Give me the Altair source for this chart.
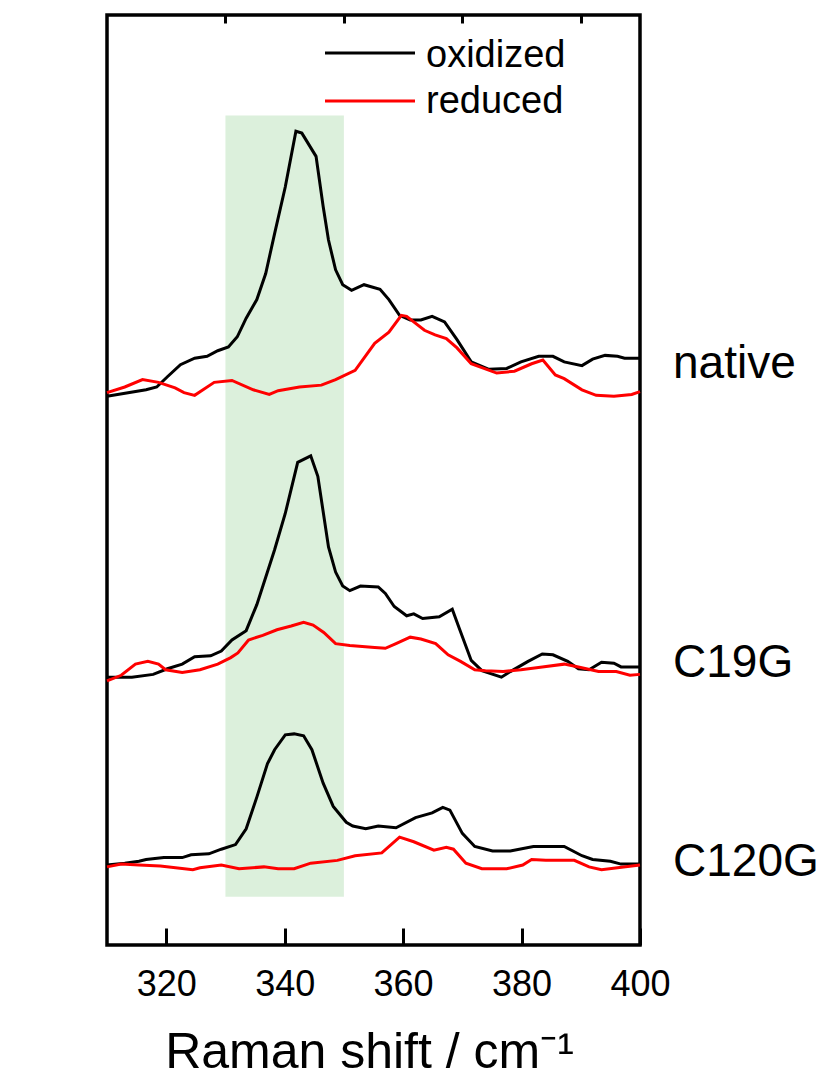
import altair as alt
import pandas as pd

# Raman spectra (shift in cm-1, intensity in arbitrary offset units)
native_ox_x = [310.0, 316.6, 318.4, 320.2, 322.4, 324.8, 326.9, 328.7, 330.5, 332.0, 333.5, 335.3,
               336.8, 338.3, 340.1, 341.9, 342.9, 345.3, 346.5, 347.4, 348.6, 349.8, 351.3, 353.4,
               356.1, 357.6, 359.4, 361.2, 363.0, 364.9, 367.0, 369.1, 371.5, 374.5, 377.5, 379.9,
               382.9, 385.3, 387.2, 390.2, 392.0, 394.1, 396.2, 397.4, 400.0]
native_ox_y = [59.0, 59.7, 60.0, 61.1, 62.4, 63.1, 63.3, 63.9, 64.3, 65.4, 67.4, 69.4,
               72.2, 76.5, 81.5, 87.5, 87.3, 84.8, 79.4, 75.8, 72.6, 71.0, 70.4, 71.0,
               70.5, 69.4, 67.7, 67.2, 67.2, 67.6, 67.0, 65.1, 62.7, 61.9, 62.0, 62.7,
               63.3, 63.3, 62.7, 62.3, 63.0, 63.4, 63.3, 63.1, 63.1]

native_red_x = [310.0, 313.0, 316.0, 318.7, 321.5, 323.0, 324.8, 328.1, 331.1, 334.7, 337.4, 338.9,
                342.5, 346.2, 348.6, 351.9, 355.2, 357.6, 359.7, 360.6, 363.6, 365.4, 367.3, 369.1,
                371.5, 375.8, 378.8, 381.7, 383.6, 385.7, 387.2, 390.2, 392.6, 395.6, 398.6, 400.0]
native_red_y = [59.4, 60.0, 60.8, 60.5, 59.9, 59.4, 59.1, 60.5, 60.7, 59.7, 59.2, 59.6,
                60.0, 60.2, 60.8, 61.8, 64.7, 65.9, 67.7, 67.6, 66.1, 65.6, 65.2, 64.2,
                62.5, 61.5, 61.7, 62.5, 62.9, 61.3, 60.9, 59.7, 59.1, 59.0, 59.2, 59.5]

c19g_ox_x = [310.0, 314.2, 317.8, 320.2, 322.7, 324.8, 327.5, 329.3, 331.1, 333.5, 335.3, 338.3,
             340.1, 342.2, 344.4, 345.6, 347.4, 348.6, 349.8, 351.0, 352.8, 355.8, 357.0, 358.5,
             360.6, 361.8, 363.3, 366.1, 368.3, 369.4, 371.5, 373.3, 376.6, 378.1, 381.1, 383.5,
             385.3, 387.8, 389.6, 391.4, 393.5, 395.6, 396.8, 400.0]
c19g_ox_y = [28.8, 28.8, 29.1, 29.7, 30.2, 31.0, 31.1, 31.6, 32.8, 33.8, 36.6, 42.5,
             46.4, 51.9, 52.6, 50.4, 42.8, 40.1, 38.6, 38.1, 38.6, 38.5, 37.8, 36.4,
             35.4, 35.6, 35.1, 35.3, 36.1, 34.2, 30.6, 29.5, 28.8, 29.4, 30.5, 31.3,
             31.2, 30.5, 29.7, 29.6, 30.4, 30.3, 29.9, 29.9]

c19g_red_x = [310.0, 312.4, 314.8, 316.9, 318.7, 319.9, 322.7, 325.7, 328.7, 330.9, 332.1, 333.9,
              336.3, 338.7, 341.1, 343.2, 344.8, 346.6, 348.6, 351.0, 355.2, 357.0, 358.8, 361.2,
              363.0, 365.5, 367.6, 369.7, 372.1, 373.9, 376.9, 379.9, 383.5, 387.2, 389.6, 393.0,
              396.0, 398.3, 400.0]
c19g_red_y = [28.4, 29.0, 30.2, 30.5, 30.2, 29.6, 29.3, 29.6, 30.2, 30.9, 31.4, 32.8,
              33.3, 33.9, 34.3, 34.7, 34.4, 33.6, 32.4, 32.2, 32.0, 31.9, 32.4, 33.1,
              32.9, 32.4, 31.2, 30.5, 29.6, 29.5, 29.4, 29.6, 29.9, 30.2, 29.9, 29.4,
              29.4, 29.0, 29.1]

c120g_ox_x = [310.0, 313.0, 315.4, 316.6, 319.6, 322.7, 324.2, 327.2, 329.3, 331.7, 333.5, 335.3,
              337.1, 338.3, 340.1, 341.6, 343.2, 344.6, 346.5, 348.2, 350.4, 351.5, 353.7, 355.8,
              358.8, 362.1, 364.9, 366.7, 367.9, 370.0, 372.1, 375.1, 378.1, 382.0, 387.2, 390.2,
              392.0, 395.0, 396.8, 400.0]
c120g_ox_y = [8.6, 8.8, 9.0, 9.2, 9.4, 9.4, 9.7, 9.8, 10.3, 10.8, 12.5, 15.9,
              19.5, 21.0, 22.6, 22.7, 22.5, 21.0, 17.4, 14.9, 13.2, 12.8, 12.5, 12.8,
              12.6, 13.7, 14.2, 14.8, 14.5, 12.0, 10.6, 10.1, 10.1, 10.6, 10.6, 9.6,
              9.2, 9.0, 8.7, 8.7]

c120g_red_x = [310.0, 312.4, 315.4, 319.0, 324.5, 325.7, 329.3, 332.3, 336.5, 338.9, 341.6, 344.4,
               348.9, 351.9, 356.4, 359.4, 361.8, 365.2, 367.3, 368.5, 370.6, 373.3, 377.5, 380.2,
               381.7, 384.1, 388.9, 391.4, 393.5, 396.2, 400.0]
c120g_red_y = [8.4, 8.7, 8.6, 8.5, 8.1, 8.3, 8.6, 8.2, 8.4, 8.2, 8.2, 8.8,
               9.1, 9.6, 9.9, 11.6, 11.1, 10.2, 10.5, 10.3, 8.8, 8.2, 8.2, 8.6,
               9.2, 9.1, 9.1, 8.4, 8.1, 8.3, 8.6]

samples = ["native", "C19G", "C120G"]
states = ["oxidized", "reduced"]
state_colors = ["#000000", "#ff0000"]

# highlighted band (cm-1) and its vertical extent (intensity units)
band_x = [330, 350]
band_y = [5.2, 89.2]

major_ticks = [320, 340, 360, 380, 400]
minor_ticks = [330, 350, 370, 390]

traces = [
    ("native", "oxidized", native_ox_x, native_ox_y),
    ("native", "reduced", native_red_x, native_red_y),
    ("C19G", "oxidized", c19g_ox_x, c19g_ox_y),
    ("C19G", "reduced", c19g_red_x, c19g_red_y),
    ("C120G", "oxidized", c120g_ox_x, c120g_ox_y),
    ("C120G", "reduced", c120g_red_x, c120g_red_y),
]
rows = []
for sample, state, xs, ys in traces:
    for xv, yv in zip(xs, ys):
        rows.append({"sample": sample, "state": state, "trace": f"{sample}-{state}",
                     "shift": xv, "intensity": yv})
spectra = pd.DataFrame(rows)

W, H = 533, 930
FONT = "Liberation Sans"
MAJOR_LEN, MINOR_LEN = 17, 8

x_scale = alt.Scale(domain=[310, 400], nice=False, zero=False)
y_scale = alt.Scale(domain=[0, 100], nice=False, zero=False)

# main x axis, lifted into the frame so its ticks point inward
x_axis = alt.Axis(
    title="Raman shift / cm\u207b\u00b9", values=major_ticks, format="d",
    grid=False, domain=False, ticks=True, tickSize=MAJOR_LEN, tickWidth=3,
    tickColor="black", offset=-MAJOR_LEN, labelFlush=False,
    labelFontSize=36, labelPadding=50, labelBaseline="alphabetic",
    labelFont=FONT, labelColor="black",
    titleFontSize=50, titleFont=FONT, titleFontWeight="normal", titleColor="black",
    titleX=262, titleY=122 + MAJOR_LEN, titleBaseline="alphabetic", titleAlign="center",
)
# second x axis carrying only the shorter minor ticks
x_minor_axis = alt.Axis(
    title=None, values=minor_ticks, labels=False, grid=False, domain=False,
    ticks=True, tickSize=MINOR_LEN, tickWidth=3, tickColor="black", offset=-MINOR_LEN,
)
y_axis = alt.Axis(
    title="intensity", grid=False, domain=False, ticks=False, labels=False,
    titleFontSize=46, titleFont=FONT, titleFontWeight="normal", titleColor="black",
    titleX=-77, titleY=465, titleAngle=270, titleBaseline="middle", titleAlign="center",
)

band = alt.Chart(pd.DataFrame({"x0": [band_x[0]], "x1": [band_x[1]],
                               "y0": [band_y[0]], "y1": [band_y[1]]})).mark_rect(
    color="#dcf0dc", opacity=1
).encode(
    x=alt.X("x0:Q", scale=x_scale, axis=x_axis),
    x2="x1:Q",
    y=alt.Y("y0:Q", scale=y_scale, axis=y_axis),
    y2="y1:Q",
)

lines = alt.Chart(spectra).mark_line(strokeWidth=3).encode(
    x=alt.X("shift:Q", scale=x_scale, axis=x_minor_axis),
    y=alt.Y("intensity:Q", scale=y_scale, axis=None),
    color=alt.Color("state:N", scale=alt.Scale(domain=states, range=state_colors), legend=None),
    detail="trace:N",
    order=alt.Order("shift:Q"),
)

# legend: short line sample plus label for each state
legend_layers = []
for i, (state, col) in enumerate(zip(states, state_colors)):
    one = pd.DataFrame({"label": [state]})
    legend_layers.append(
        alt.Chart(one).mark_rule(color=col, strokeWidth=3).encode(
            x=alt.value(218), x2=alt.value(308), y=alt.value(38 + 48 * i)
        )
    )
    legend_layers.append(
        alt.Chart(one).mark_text(
            align="left", baseline="alphabetic", fontSize=38, font=FONT, color="black"
        ).encode(x=alt.value(319), y=alt.value(52 + 46 * i), text="label:N")
    )

# sample names to the right of each stacked pair of spectra
name_y = [363, 662, 861]
name_layers = []
for name, yp in zip(samples, name_y):
    name_layers.append(
        alt.Chart(pd.DataFrame({"name": [name]})).mark_text(
            align="left", baseline="alphabetic", fontSize=46, font=FONT, color="black"
        ).encode(x=alt.value(566), y=alt.value(yp), text="name:N")
    )

chart = alt.layer(band, lines, *legend_layers, *name_layers).resolve_axis(
    x="independent"
).properties(
    width=W, height=H,
    padding={"left": 107, "top": 15, "right": 824 - 107 - W, "bottom": 1079 - 15 - H},
    autosize="none",
).configure(
    background="white",
    view=alt.ViewConfig(stroke="black", strokeWidth=3.5),
)

chart.save("out.html", embed_options={"renderer": "svg", "actions": False})
